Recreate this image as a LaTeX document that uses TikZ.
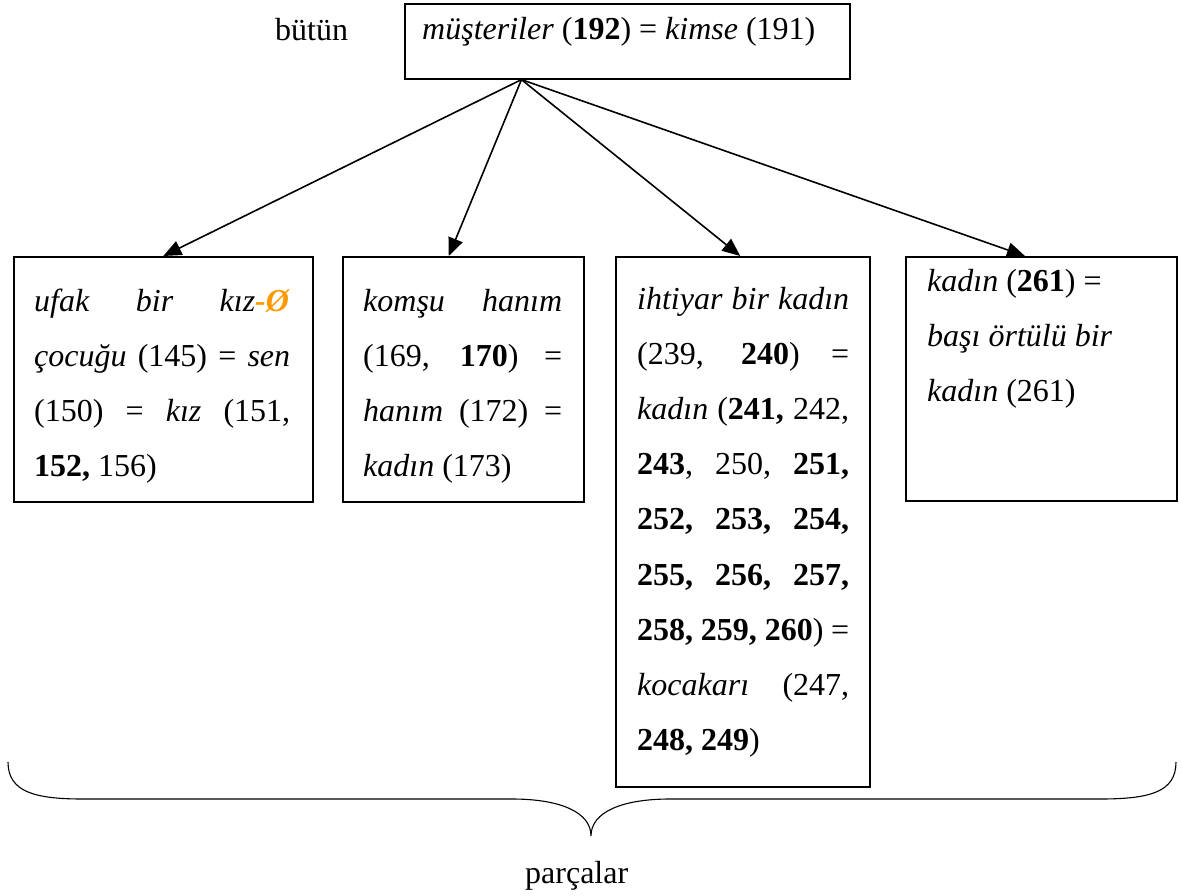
\documentclass[tikz,border=0pt]{standalone}
\usepackage{fontspec}
\setmainfont{Liberation Serif}
\usetikzlibrary{arrows.meta,calc}
\definecolor{zeroorange}{RGB}{255,153,0}
% a line spread to the full width of its box, and a plain (ragged) line
\newcommand{\justline}[1]{\makebox[\linewidth][s]{#1}\par}
\newcommand{\plainline}[1]{#1\par}
\begin{document}
\begin{tikzpicture}[x=1pt,y=-1pt,
  font=\fontsize{32}{55.2}\selectfont,
  box/.style={draw, line width=1.6pt, inner sep=0pt, anchor=north west},
  body/.style={anchor=base west, inner sep=0pt},
  link/.style={line width=1.6pt, -{Triangle[length=18pt,width=15pt]}}]
\useasboundingbox (0,0) rectangle (1181,895);

% the whole
\node[box, minimum width=445pt, minimum height=75pt] (whole) at (404,3) {};
\node[body] (whole-text) at (422,39)
  {\textit{müşteriler} (\textbf{192}) = \textit{kimse} (191)};
\node[body] (whole-label) at (275,40) {bütün};

% the parts
\node[box, minimum width=299pt, minimum height=245pt] (b1) at (13,256) {};
\node[box, minimum width=241pt, minimum height=245pt] (b2) at (342,256) {};
\node[box, minimum width=254pt, minimum height=530pt] (b3) at (615,256) {};
\node[box, minimum width=271pt, minimum height=244pt] (b4) at (905,256) {};

\node[body] (t1) at (34,311) {\parbox[t]{256pt}{%
  \justline{\textit{ufak} \textit{bir} \textit{kız}\textcolor{zeroorange}{\textbf{\textit{-Ø}}}}
  \justline{\textit{çocuğu} (145) = \textit{sen}}
  \justline{(150) = \textit{kız} (151,}
  \plainline{\textbf{152,} 156)}}};

\node[body] (t2) at (363,311) {\parbox[t]{199pt}{%
  \justline{\textit{komşu} \textit{hanım}}
  \justline{(169, \textbf{170}) =}
  \justline{\textit{hanım} (172) =}
  \plainline{\textit{kadın} (173)}}};

\node[body] (t3) at (637,309) {\parbox[t]{212pt}{%
  \justline{\textit{ihtiyar bir kadın}}
  \justline{(239, \textbf{240}) =}
  \justline{\textit{kadın} (\textbf{241,} 242,}
  \justline{\textbf{243}, 250, \textbf{251,}}
  \justline{\textbf{252, 253, 254,}}
  \justline{\textbf{255, 256, 257,}}
  \justline{\textbf{258, 259, 260}) =}
  \justline{\textit{kocakarı} (247,}
  \plainline{\textbf{248, 249})}}};

\node[body] (t4) at (927,291) {\parbox[t]{220pt}{%
  \plainline{\textit{kadın} (\textbf{261}) =}
  \plainline{\textit{başı örtülü bir}}
  \plainline{\textit{kadın} (261)}}};

% connectors from the whole to each part
\coordinate (hub) at ($(whole.south west)!0.263!(whole.south east)$);
\draw[link] (hub) -- (b1.north);
\draw[link] (hub) -- ($(b2.north west)!0.44!(b2.north east)$);
\draw[link] (hub) -- ($(b3.north west)!0.49!(b3.north east)$);
\draw[link] (hub) -- ($(b4.north west)!0.44!(b4.north east)$);

% brace gathering the parts
\coordinate (bl) at (8,762);
\coordinate (bt) at (591,836);
\coordinate (br) at (1176,762);
\draw[line width=1.1pt] (bl) .. controls (8,792) and (35,799) .. (83,799)
  -- (512,799) .. controls (560,799) and (591,812) .. (bt)
  .. controls (591,812) and (622,799) .. (670,799)
  -- (1100,799) .. controls (1150,799) and (1176,792) .. (br);
\node[body] (parts-label) at (525,883) {parçalar};
\end{tikzpicture}
\end{document}
